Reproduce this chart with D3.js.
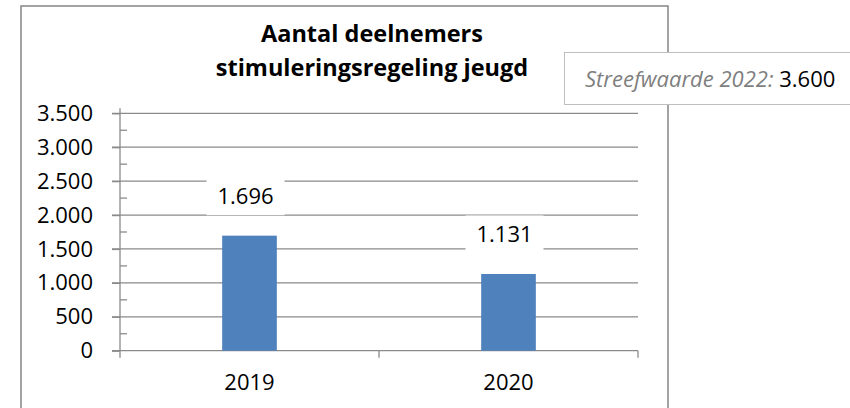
<!DOCTYPE html>
<html>
<head>
<meta charset="utf-8">
<script src="https://cdn.jsdelivr.net/npm/d3@7/dist/d3.min.js"></script>
<style>
  html, body { margin: 0; padding: 0; background: #fff; }
  svg { display: block; }
  text { font-family: "Open Sans", "Liberation Sans", sans-serif; }
</style>
</head>
<body>
<svg id="chart" width="850" height="408"></svg>
<script>
// ---- data ----
const categories = ["2019", "2020"];
const values = [1696, 1131];
const yTicks = [0, 500, 1000, 1500, 2000, 2500, 3000, 3500];
const titleLines = ["Aantal deelnemers", "stimuleringsregeling jeugd"];
const targetLabel = "Streefwaarde 2022:";
const targetValue = "3.600";

const fmt = v => d3.format(",")(v).replace(/,/g, ".");

const svg = d3.select("#chart");

// chart area border
svg.append("rect")
  .attr("x", 21).attr("y", 6)
  .attr("width", 647).attr("height", 420)
  .attr("fill", "#fff")
  .attr("stroke", "#8c8c8c").attr("stroke-width", 1.6);

const plot = { left: 120, right: 638, top: 113.3, bottom: 350.7 };

const x = d3.scaleBand().domain(categories).range([plot.left, plot.right]).padding(0);
const y = d3.scaleLinear().domain([0, 3500]).range([plot.bottom, plot.top]);

const gridColor = "#8a8a8a";
const fs = 22;

// gridlines
svg.append("g").selectAll("line").data(yTicks.filter(d => d > 0)).join("line")
  .attr("x1", plot.left - 8).attr("x2", plot.right)
  .attr("y1", d => y(d)).attr("y2", d => y(d))
  .attr("stroke", gridColor).attr("stroke-width", 1.3);

// y axis (major ticks outside)
const yAxis = d3.axisLeft(y).tickValues(yTicks).tickSize(8).tickPadding(19).tickFormat(fmt);
const gy = svg.append("g").attr("transform", `translate(${plot.left},0)`).call(yAxis);
gy.select(".domain").remove();
gy.selectAll(".tick line").attr("stroke", gridColor).attr("stroke-width", 1.3);
gy.selectAll(".tick text").attr("font-size", fs).attr("fill", "#000")
  .style("font-family", '"Open Sans", sans-serif');

// y axis line
svg.append("line")
  .attr("x1", plot.left).attr("x2", plot.left)
  .attr("y1", plot.top - 5).attr("y2", plot.bottom + 7)
  .attr("stroke", gridColor).attr("stroke-width", 1.3);

// minor ticks (inside)
const minor = d3.range(250, 3500, 500);
svg.append("g").selectAll("line").data(minor).join("line")
  .attr("x1", plot.left).attr("x2", plot.left + 7)
  .attr("y1", d => y(d)).attr("y2", d => y(d))
  .attr("stroke", gridColor).attr("stroke-width", 1.3);

// x axis
const xAxis = d3.axisBottom(x).tickSize(0).tickPadding(24);
const gx = svg.append("g").attr("transform", `translate(0,${plot.bottom})`).call(xAxis);
gx.select(".domain").remove();
gx.selectAll(".tick text").attr("font-size", fs).attr("fill", "#000")
  .style("font-family", '"Open Sans", sans-serif');

svg.append("line")
  .attr("x1", plot.left - 8).attr("x2", plot.right)
  .attr("y1", plot.bottom).attr("y2", plot.bottom)
  .attr("stroke", gridColor).attr("stroke-width", 1.3);

// category boundary ticks
const bounds = categories.map(c => x(c) + x.bandwidth());
svg.append("g").selectAll("line").data(bounds).join("line")
  .attr("x1", d => d).attr("x2", d => d)
  .attr("y1", plot.bottom).attr("y2", plot.bottom + 7)
  .attr("stroke", gridColor).attr("stroke-width", 1.3);

// bars
const barW = x.bandwidth() * 0.211;
svg.append("g").selectAll("rect").data(values).join("rect")
  .attr("x", (d, i) => x(categories[i]) + x.bandwidth() / 2 - barW / 2)
  .attr("y", d => y(d))
  .attr("width", barW)
  .attr("height", d => y(0) - y(d))
  .attr("fill", "#4f81bd");

// data labels with white boxes
const lab = svg.append("g").selectAll("g").data(values).join("g")
  .attr("transform", (d, i) => `translate(${x(categories[i]) + x.bandwidth() / 2 - 4},${y(d) - 39.5})`);
lab.append("rect").attr("x", -39).attr("y", -19).attr("width", 78).attr("height", 38).attr("fill", "#fff");
lab.append("text").attr("text-anchor", "middle").attr("dy", "0.35em")
  .attr("font-size", fs).attr("fill", "#000").text(d => fmt(d));

// title
const title = svg.append("text").attr("text-anchor", "middle")
  .attr("font-weight", "bold").attr("font-size", 23.5).attr("fill", "#000");
title.selectAll("tspan").data(titleLines).join("tspan")
  .attr("x", 372).attr("y", (d, i) => 42 + i * 34).text(d => d);

// target box
svg.append("rect")
  .attr("x", 564.5).attr("y", 52.5).attr("width", 300).attr("height", 52)
  .attr("fill", "#fff").attr("stroke", "#bfbfbf").attr("stroke-width", 1);
const tt = svg.append("text").attr("x", 585).attr("y", 87).attr("font-size", 22);
tt.append("tspan").attr("font-style", "italic").attr("fill", "#7f7f7f").text(targetLabel + " ");
tt.append("tspan").attr("fill", "#000").text(targetValue);
</script>
</body>
</html>
